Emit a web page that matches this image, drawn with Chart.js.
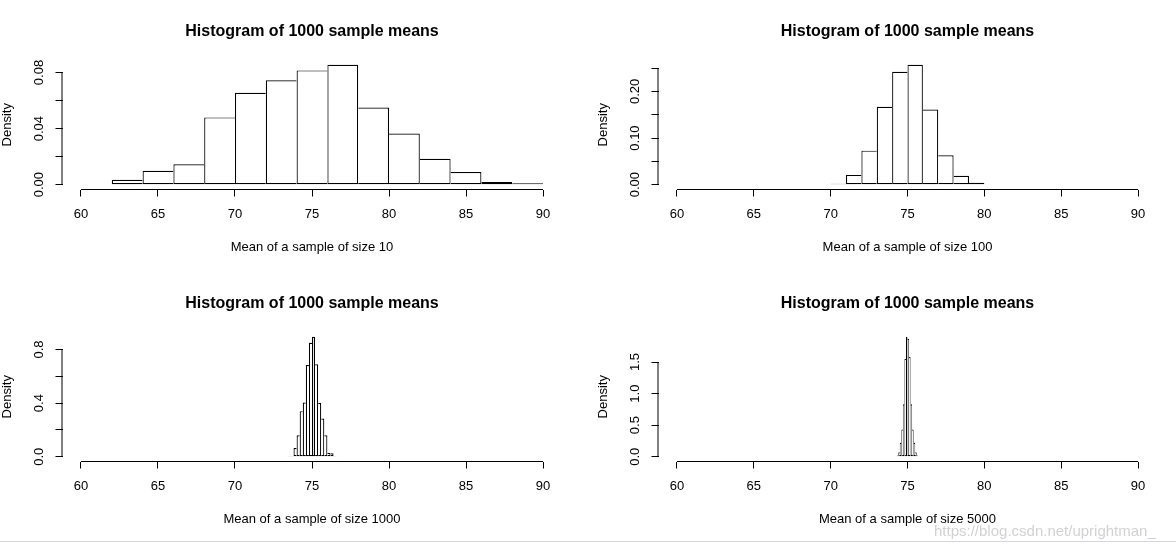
<!DOCTYPE html>
<html>
<head>
<meta charset="utf-8">
<script src="https://cdn.jsdelivr.net/npm/chart.js@4.4.0/dist/chart.umd.min.js"></script>
<style>
  body { margin: 0; background: #fff; }
  #wrap { position: relative; width: 1176px; height: 544px; overflow: hidden; }
  .panel { position: absolute; width: 588px; height: 272px; }
  #mark { position: absolute; left: 934px; top: 522px; font: 15px "Liberation Sans", Arial, sans-serif;
          color: rgba(190, 190, 190, 0.7); white-space: nowrap; }
  #rule { position: absolute; left: 0; top: 541px; width: 1176px; border-top: 1px solid #d3d7dc; }
</style>
</head>
<body>
<div id="wrap">
  <canvas class="panel" id="c10" width="588" height="272" style="left:0;top:0"></canvas>
  <canvas class="panel" id="c100" width="588" height="272" style="left:588px;top:0"></canvas>
  <canvas class="panel" id="c1000" width="588" height="272" style="left:0;top:272px"></canvas>
  <canvas class="panel" id="c5000" width="588" height="272" style="left:588px;top:272px"></canvas>
  <div id="rule"></div>
  <div id="mark">https://blog.csdn.net/uprightman_</div>
</div>
<script>
// x axis, shared by all four panels
const xTicks = [60, 65, 70, 75, 80, 85, 90];

// sample size 10 (bin width 2)
const breaks10 = [62, 64, 66, 68, 70, 72, 74, 76, 78, 80, 82, 84, 86, 88, 90];
const dens10 = [0.0035, 0.010, 0.0145, 0.048, 0.0655, 0.0745, 0.0815, 0.0855, 0.055, 0.0365, 0.0185, 0.009, 0.002, 0.001];
const yTicks10 = [0, 0.02, 0.04, 0.06, 0.08];
const yLabels10 = ['0.00', '', '0.04', '', '0.08'];

// sample size 100 (bin width 1)
const breaks100 = [70, 71, 72, 73, 74, 75, 76, 77, 78, 79, 80];
const dens100 = [0.002, 0.021, 0.073, 0.167, 0.242, 0.257, 0.161, 0.063, 0.019, 0.004];
const yTicks100 = [0, 0.05, 0.10, 0.15, 0.20, 0.25];
const yLabels100 = ['0.00', '', '0.10', '', '0.20', ''];

// sample size 1000 (bin width 0.2)
const breaks1000 = [73.4, 73.6, 73.8, 74.0, 74.2, 74.4, 74.6, 74.8, 75.0, 75.2, 75.4, 75.6, 75.8, 76.0, 76.2, 76.4, 76.6];
const dens1000 = [0.005, 0.005, 0.065, 0.160, 0.340, 0.405, 0.685, 0.850, 0.895, 0.690, 0.400, 0.285, 0.160, 0.030, 0.025, 0.005];
const yTicks1000 = [0, 0.2, 0.4, 0.6, 0.8];
const yLabels1000 = ['0.0', '', '0.4', '', '0.8'];

// sample size 5000 (bin width 0.1)
const breaks5000 = [74.3, 74.4, 74.5, 74.6, 74.7, 74.8, 74.9, 75.0, 75.1, 75.2, 75.3, 75.4, 75.5, 75.6, 75.7];
const dens5000 = [0.02, 0.07, 0.22, 0.43, 0.83, 1.55, 1.90, 1.87, 1.58, 0.83, 0.43, 0.22, 0.07, 0.02];
const yTicks5000 = [0, 0.5, 1.0, 1.5];
const yLabels5000 = ['0.0', '0.5', '1.0', '1.5'];

const FONT = '"Liberation Sans", Arial, Helvetica, sans-serif';
Chart.defaults.font.family = FONT;
Chart.defaults.color = '#000';

// R draws its axis line only from the first to the last tick
const rAxes = {
  id: 'rAxes',
  afterDraw(chart) {
    const { ctx, chartArea, scales: { x, y } } = chart;
    const xt = x.ticks, yt = y.ticks;
    ctx.save();
    ctx.strokeStyle = '#000';
    ctx.lineWidth = 1;
    ctx.beginPath();
    ctx.moveTo(x.getPixelForValue(xt[0].value), chartArea.bottom);
    ctx.lineTo(x.getPixelForValue(xt[xt.length - 1].value), chartArea.bottom);
    ctx.moveTo(chartArea.left - 0.5, y.getPixelForValue(yt[0].value));
    ctx.lineTo(chartArea.left - 0.5, y.getPixelForValue(yt[yt.length - 1].value));
    ctx.stroke();
    ctx.restore();
  }
};

// draw each shared bin edge only once, like R's rect()
function edgeWidths(vals) {
  return (c) => {
    const i = c.dataIndex, v = vals[i];
    const prev = i > 0 ? vals[i - 1] : -1;
    const next = i < vals.length - 1 ? vals[i + 1] : -1;
    return { top: 1.2, bottom: 1.2, left: prev <= v ? 1.2 : 0, right: next < v ? 1.2 : 0 };
  };
}

function histogram(id, breaks, dens, yTicks, yLabels, xTitle, padL, padR, yPad) {
  const points = dens.map((d, i) => ({ x: (breaks[i] + breaks[i + 1]) / 2, y: d }));
  const top = Math.max(...dens);
  new Chart(document.getElementById(id), {
    type: 'bar',
    data: {
      datasets: [{
        data: points,
        backgroundColor: '#fff',
        borderColor: '#000',
        borderWidth: edgeWidths(dens),
        borderSkipped: false,
        inflateAmount: 0,
        barPercentage: 1,
        categoryPercentage: 1
      }]
    },
    options: {
      responsive: false,
      animation: false,
      layout: { padding: { left: padL, right: padR, top: 0, bottom: 0 } },
      plugins: {
        legend: { display: false },
        tooltip: { enabled: false },
        title: {
          display: true,
          text: 'Histogram of 1000 sample means',
          fullSize: false,
          color: '#000',
          font: { size: 16, weight: 'bold' },
          padding: { top: 22, bottom: 18.8 }
        }
      },
      scales: {
        x: {
          type: 'linear',
          offset: false,
          min: 58.8,
          max: 91.2,
          afterBuildTicks: (s) => { s.ticks = xTicks.map((v) => ({ value: v })); },
          afterFit: (s) => { s.height = 82.5; },
          border: { display: false },
          grid: { offset: false, drawOnChartArea: false, drawTicks: true, tickLength: 7, tickColor: '#000', tickWidth: 1 },
          ticks: { autoSkip: false, maxRotation: 0, padding: 10, color: '#000', font: { size: 13 } },
          title: { display: true, text: xTitle, color: '#000', font: { size: 13 }, padding: { top: 0, bottom: 17.2 } }
        },
        y: {
          min: -0.04 * top,
          max: 1.04 * top,
          afterBuildTicks: (s) => { s.ticks = yTicks.map((v) => ({ value: v })); },
          afterFit: (s) => { s.width = 62.5; },
          border: { display: false },
          grid: { drawOnChartArea: false, drawTicks: true, tickLength: 7, tickColor: '#000', tickWidth: 1 },
          ticks: {
            autoSkip: false, minRotation: 90, maxRotation: 90, crossAlign: 'center',
            padding: yPad, color: '#000', font: { size: 13 },
            callback: (v, i) => yLabels[i]
          },
          title: { display: true, text: 'Density', color: '#000', font: { size: 13 }, padding: { top: 0, bottom: 0 } }
        }
      }
    },
    plugins: [rAxes]
  });
}

histogram('c10', breaks10, dens10, yTicks10, yLabels10, 'Mean of a sample of size 10', 0, 26.5, 3.9);
histogram('c100', breaks100, dens100, yTicks100, yLabels100, 'Mean of a sample of size 100', 8, 19.5, 3.9);
histogram('c1000', breaks1000, dens1000, yTicks1000, yLabels1000, 'Mean of a sample of size 1000', 0, 26.5, 7.5);
histogram('c5000', breaks5000, dens5000, yTicks5000, yLabels5000, 'Mean of a sample of size 5000', 8, 19.5, 7.5);
</script>
</body>
</html>
